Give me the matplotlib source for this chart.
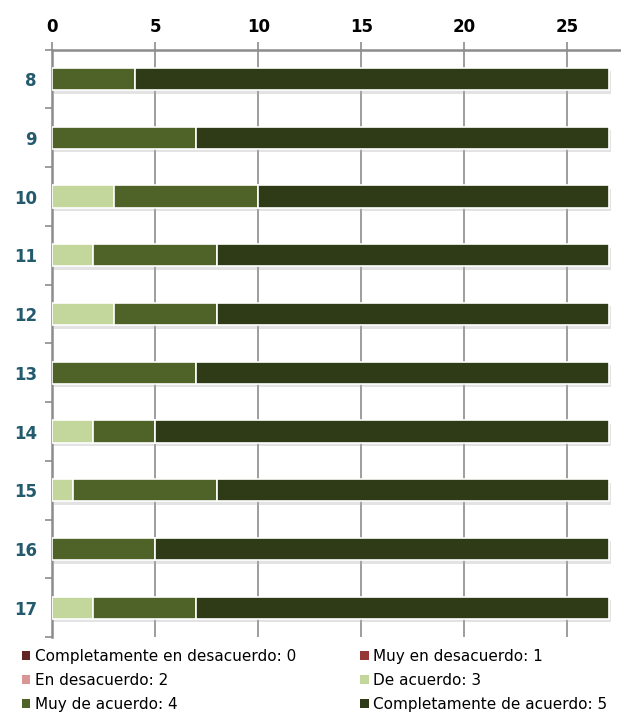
import numpy as np
import matplotlib
matplotlib.use('Agg')
import matplotlib.pyplot as plt
import matplotlib.patheffects as pe
from matplotlib.patches import Patch

questions = ['8', '9', '10', '11', '12', '13', '14', '15', '16', '17']
labels = ['Completamente en desacuerdo: 0', 'Muy en desacuerdo: 1',
          'En desacuerdo: 2', 'De acuerdo: 3',
          'Muy de acuerdo: 4', 'Completamente de acuerdo: 5']
colors = ['#632523', '#953735', '#D99694', '#C3D69B', '#4F6228', '#2F3A17']

score0 = [0, 0, 0, 0, 0, 0, 0, 0, 0, 0]
score1 = [0, 0, 0, 0, 0, 0, 0, 0, 0, 0]
score2 = [0, 0, 0, 0, 0, 0, 0, 0, 0, 0]
score3 = [0, 0, 3, 2, 3, 0, 2, 1, 0, 2]
score4 = [4, 7, 7, 6, 5, 7, 3, 7, 5, 5]
score5 = [23, 20, 17, 19, 19, 20, 22, 19, 22, 20]

series = [score0, score1, score2, score3, score4, score5]

fig = plt.figure(figsize=(6.21, 7.2), dpi=100)
ax = fig.add_axes([0.084, 0.115, 0.916, 0.816])

y = np.arange(len(questions))
left = np.zeros(len(questions))
shadow = [pe.SimplePatchShadow(offset=(1.5, -2.5), shadow_rgbFace='#b0b0b0', alpha=0.35),
          pe.Normal()]
for vals, col in zip(series, colors):
    vals = np.array(vals, dtype=float)
    bars = ax.barh(y, vals, left=left, height=0.38, color=col,
                   edgecolor='white', linewidth=1.2, zorder=3)
    for b in bars:
        if b.get_width() > 0:
            b.set_path_effects(shadow)
    left += vals

ax.set_xlim(0, 27.6)
ax.set_ylim(9.5, -0.5)
ax.set_xticks([0, 5, 10, 15, 20, 25])
ax.set_yticks(y)
ax.set_yticklabels(questions)
ax.set_yticks(np.arange(-0.5, 10, 1), minor=True)

ax.xaxis.tick_top()
ax.grid(axis='x', color='#8c8c8c', linewidth=1.2, zorder=0)
ax.set_axisbelow(True)

for s in ['right', 'bottom']:
    ax.spines[s].set_visible(False)
for s in ['top', 'left']:
    ax.spines[s].set_color('#8c8c8c')
    ax.spines[s].set_linewidth(1.8)

ax.tick_params(axis='x', length=6, width=1.2, color='#8c8c8c', pad=4,
               labelsize=12, labelcolor='black')
ax.tick_params(axis='y', which='major', length=0, pad=11,
               labelsize=12, labelcolor='#245a6e')
ax.tick_params(axis='y', which='minor', length=5, width=1.2, color='#8c8c8c')
for t in ax.get_xticklabels() + ax.get_yticklabels():
    t.set_fontweight('bold')

# legend: rows read left to right
handles = [Patch(facecolor=c, edgecolor='none') for c in colors]
order = [0, 2, 4, 1, 3, 5]
fig.legend([handles[i] for i in order], [labels[i] for i in order],
           loc='upper left', bbox_to_anchor=(0.035, 0.099), ncol=2,
           frameon=False, fontsize=11, handlelength=0.55, handleheight=0.55,
           handletextpad=0.3, columnspacing=4.2, labelspacing=0.6,
           borderaxespad=0, borderpad=0)

fig.savefig('out.png', dpi=100)
